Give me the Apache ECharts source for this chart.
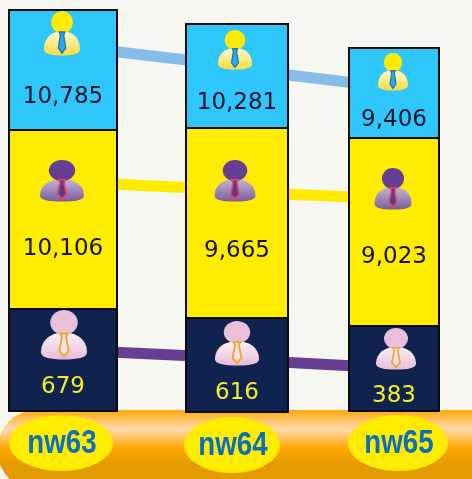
<!DOCTYPE html>
<html><head><meta charset="utf-8">
<style>html,body{margin:0;padding:0;background:#f7f7f2}#c{width:472px;height:479px}</style>
<script src="https://cdn.jsdelivr.net/npm/echarts@6/dist/echarts.min.js"></script>
</head><body><div id="c"></div>
<script>
const categories = ['nw63', 'nw64', 'nw65'];
const topValues = [10785, 10281, 9406];
const midValues = [10106, 9665, 9023];
const bottomValues = [679, 616, 383];

// The picture is not drawn to scale: the stacks' spans are read from it, in axis units.
const columnLeft = [9, 186, 349];
const columnRight = [117, 288, 439];
const topStart = [10, 24, 48];
const topEnd = [130, 128, 138];
const midEnd = [309, 318, 326];
const bottomEnd = [411, 412, 411];
const topLabelAt = [97, 103, 120];
const midLabelAt = [249, 251, 257];
const bottomLabelAt = [387, 393, 396];
const iconX = [[62, 62, 64], [235, 235, 237], [393, 393, 396]];
const topIconY = [11, 30, 53];
const midIconY = [160, 160, 168];
const bottomIconY = [310, 321, 328];
const topIconSize = [36, 34, 30];
const midIconSize = [44, 41, 37];
const bottomIconSize = [46, 44, 40];
const topIconTall = [45, 40, 38];
const midIconTall = [42, 42, 42];
const bottomIconTall = [50, 45, 42];
const ovalX = [61, 232, 398];
const ovalY = [443, 445, 443];
const ovalRx = [52, 48, 50];
const blueLink = [[110, 51], [195, 61], [280, 74], [355, 83]];
const yellowLink = [[110, 184], [195, 188], [280, 194], [355, 197]];
const purpleLink = [[110, 352], [195, 356], [280, 362], [355, 366]];

const themes = {
  top: {bar:'#2fc7fb', text:'#07142a', head:'#ffea00', b1:'#fffbd0', b2:'#f5dc3c', tie:'#1b78c0', tieFill:'#2fa8e8'},
  mid: {bar:'#ffec00', text:'#141408', head:'#663f92', b1:'#c4b6d2', b2:'#7a5ca0', tie:'#e8445a', tieFill:'#5a3a90'},
  bottom: {bar:'#10234f', text:'#f0ee2c', head:'#e9bfd9', b1:'#fbf2f6', b2:'#e6bcd6', tie:'#f6a21c', tieFill:'#f4e2ec'}
};
const BODY = 'M0,0 C28,0 50,14 50,40 C50,50 30,54 0,54 C-30,54 -50,50 -50,40 C-50,14 -28,0 0,0 Z';
const TIE = 'M-8,0 L8,0 L5,8 L11,38 L0,50 L-11,38 L-5,8 Z';

function person(cx, y, w, h, t) {
  return {
    type: 'group', x: cx, y: y, scaleX: w / 100, scaleY: h / 100,
    children: [
      {type:'path', shape:{pathData:BODY, x:-50, y:44, width:100, height:56},
       style:{fill:new echarts.graphic.LinearGradient(0,0,0,1,[{offset:0,color:t.b1},{offset:1,color:t.b2}])}},
      {type:'ellipse', shape:{cx:0, cy:25, rx:30, ry:25}, style:{fill:t.head}},
      {type:'path', shape:{pathData:TIE, x:-12, y:47, width:24, height:46},
       style:{fill:t.tieFill, stroke:t.tie, lineWidth:4}}
    ]
  };
}

function tierSeries(name, starts, ends, values, labelAt, iconRow, iconY, iconSize, iconTall) {
  const t = themes[name];
  return {
    type: 'custom', name, z: 5, clip: false,
    encode: {x: [0, 1], y: [2, 3]},
    data: categories.map((c, i) => [columnLeft[i], columnRight[i], starts[i], ends[i], values[i], labelAt[i], iconX[i][iconRow], iconY[i], iconSize[i], iconTall[i]]),
    renderItem(params, api) {
      const a = api.coord([api.value(0), api.value(2)]);
      const b = api.coord([api.value(1), api.value(3)]);
      const cx = (a[0] + b[0]) / 2;
      const ic = api.coord([api.value(6), api.value(7)]);
      const lab = api.coord([cx, api.value(5)]);
      const sz = api.size([api.value(8), api.value(9)]);
      return {type:'group', children:[
        {type:'rect', shape:{x:a[0], y:a[1], width:b[0]-a[0], height:b[1]-a[1]},
         style:{fill:t.bar, stroke:'#0a0a0a', lineWidth:2}},
        person(ic[0], ic[1], sz[0], sz[1], t),
        {type:'text', x:lab[0], y:lab[1], style:{text:api.value(4).toLocaleString('en-US'),
          fill:t.text, font:'normal 23px "DejaVu Sans",sans-serif', align:'center', verticalAlign:'middle'}}
      ]};
    }
  };
}
function link(data, color) {
  return {type:'line', data, symbol:'none', z:1, silent:true, lineStyle:{color, width:11, cap:'butt'}};
}

const chart = echarts.init(document.getElementById('c'), null, {renderer:'canvas'});
chart.setOption({
  animation:false,
  backgroundColor:'#f7f7f2',
  grid:{left:0, right:0, top:0, bottom:0},
  xAxis:{type:'value', min:0, max:472, show:false},
  yAxis:{type:'value', min:0, max:479, inverse:true, show:false},
  series:[
    link(blueLink, '#85bde8'),
    link(yellowLink, '#ffeb00'),
    link(purpleLink, '#663f92'),
    {
      type:'custom', z:2, clip:true, data:[[-2, 410, 520, 490]],
      renderItem(params, api){
        const a = api.coord([api.value(0), api.value(1)]);
        const b = api.coord([api.value(2), api.value(3)]);
        return {type:'rect', shape:{x:a[0], y:a[1], width:b[0]-a[0], height:b[1]-a[1], r:38},
          style:{fill:new echarts.graphic.LinearGradient(0,0,0,1,[
            {offset:0,color:'#ffa90a'},{offset:0.24,color:'#ffd9ae'},{offset:0.48,color:'#ffa600'},{offset:0.7,color:'#e29b00'},{offset:1,color:'#e29b00'}])}};
      }
    },
    {
      type:'custom', z:3,
      data:categories.map((c,i)=>[ovalX[i], ovalY[i], ovalRx[i], c]),
      renderItem(params, api){
        const p = api.coord([api.value(0), api.value(1)]);
        const r = api.size([api.value(2), 28]);
        return {type:'group', children:[
          {type:'ellipse', shape:{cx:p[0], cy:p[1], rx:r[0], ry:r[1]}, style:{fill:'#ffec00'}},
          {type:'text', x:p[0]+1, y:p[1]+1, scaleX:0.84, style:{text:categories[params.dataIndex], fill:'#0b70bc',
            font:'bold 33px "Liberation Sans",sans-serif', align:'center', verticalAlign:'middle'}}
        ]};
      }
    },
    tierSeries('top', topStart, topEnd, topValues, topLabelAt, 0, topIconY, topIconSize, topIconTall),
    tierSeries('mid', topEnd, midEnd, midValues, midLabelAt, 1, midIconY, midIconSize, midIconTall),
    tierSeries('bottom', midEnd, bottomEnd, bottomValues, bottomLabelAt, 2, bottomIconY, bottomIconSize, bottomIconTall)
  ]
});
</script></body></html>
